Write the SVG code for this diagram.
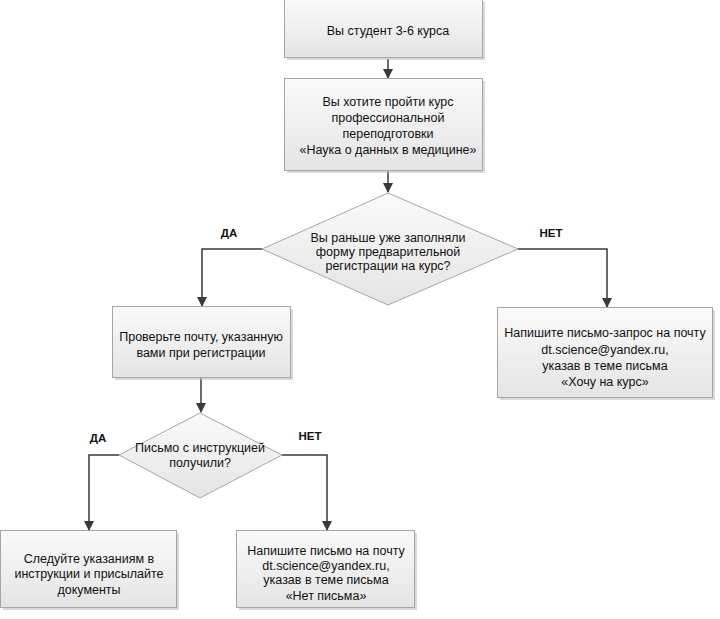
<svg xmlns="http://www.w3.org/2000/svg" width="720" height="619" viewBox="0 0 720 619">
<defs>
<linearGradient id="g" x1="0" y1="0" x2="0" y2="1">
<stop offset="0" stop-color="#fafafa"/>
<stop offset="1" stop-color="#e4e4e4"/>
</linearGradient>
<marker id="ah" viewBox="0 0 10 10" refX="9" refY="5" markerWidth="10" markerHeight="10" markerUnits="userSpaceOnUse" orient="auto">
<path d="M0,0 L10,5 L0,10 z" fill="#3a3a3a"/>
</marker>
<style>
.box{fill:url(#g);stroke:#a6a6a6;stroke-width:1}
.sh{fill:#bfbfbf;opacity:0.6}
.t{font-family:"Liberation Sans",Arial,sans-serif;font-size:12.5px;fill:#111111;text-anchor:middle}
.lb{font-family:"Liberation Sans",Arial,sans-serif;font-size:11.5px;font-weight:bold;fill:#111111;text-anchor:middle}
.c{fill:none;stroke:#3a3a3a;stroke-width:1.5;marker-end:url(#ah)}
</style>
</defs>
<rect width="720" height="619" fill="#ffffff"/>
<g id="connectors">
<path class="c" d="M388,59 V78"/>
<path class="c" d="M388,171 V192"/>
<path class="c" d="M262,249 H202 V306"/>
<path class="c" d="M518,249 H607 V307"/>
<path class="c" d="M201,378 V412"/>
<path class="c" d="M119,455 H89 V530"/>
<path class="c" d="M282,455 H327 V530"/>
</g>
<g id="n1">
<rect class="sh" x="287" y="2" width="198" height="58"/>
<rect class="box" x="284.5" y="-0.5" width="198" height="58"/>
<text class="t" x="388" y="35">Вы студент 3-6 курса</text>
</g>
<g id="n2">
<rect class="sh" x="287" y="81" width="198" height="92"/>
<rect class="box" x="284.5" y="78.5" width="198" height="92"/>
<text class="t" x="388" y="106">Вы хотите пройти курс</text>
<text class="t" x="388" y="122">профессиональной</text>
<text class="t" x="388" y="138">переподготовки</text>
<text class="t" x="388" y="154">«Наука о данных в медицине»</text>
</g>
<g id="d1">
<polygon class="box" points="388,193 518,249 388,305 262,249"/>
<text class="t" x="388" y="242">Вы раньше уже заполняли</text>
<text class="t" x="388" y="256">форму предварительной</text>
<text class="t" x="388" y="270">регистрации на курс?</text>
</g>
<text class="lb" x="229" y="237">ДА</text>
<text class="lb" x="551" y="237">НЕТ</text>
<g id="n3">
<rect class="sh" x="115" y="309" width="178" height="71"/>
<rect class="box" x="112.5" y="306.5" width="178" height="71"/>
<text class="t" x="201" y="341">Проверьте почту, указанную</text>
<text class="t" x="201" y="357">вами при регистрации</text>
</g>
<g id="n4">
<rect class="sh" x="500" y="310" width="215" height="90"/>
<rect class="box" x="497.5" y="307.5" width="215" height="90"/>
<text class="t" x="605" y="337">Напишите письмо-запрос на почту</text>
<text class="t" x="605" y="354">dt.science@yandex.ru,</text>
<text class="t" x="605" y="370">указав в теме письма</text>
<text class="t" x="605" y="386">«Хочу на курс»</text>
</g>
<g id="d2">
<polygon class="box" points="200,413 282,455 200,498 119,455"/>
<text class="t" x="200" y="452">Письмо с инструкцией</text>
<text class="t" x="200" y="467">получили?</text>
</g>
<text class="lb" x="98" y="442">ДА</text>
<text class="lb" x="310" y="440">НЕТ</text>
<g id="n5">
<rect class="sh" x="3" y="533" width="176" height="77"/>
<rect class="box" x="0.5" y="530.5" width="176" height="77"/>
<text class="t" x="89" y="563">Следуйте указаниям в</text>
<text class="t" x="89" y="578">инструкции и присылайте</text>
<text class="t" x="89" y="594">документы</text>
</g>
<g id="n6">
<rect class="sh" x="239" y="533" width="178" height="77"/>
<rect class="box" x="236.5" y="530.5" width="178" height="77"/>
<text class="t" x="326" y="555">Напишите письмо на почту</text>
<text class="t" x="326" y="570">dt.science@yandex.ru,</text>
<text class="t" x="326" y="584">указав в теме письма</text>
<text class="t" x="326" y="600">«Нет письма»</text>
</g>
</svg>
